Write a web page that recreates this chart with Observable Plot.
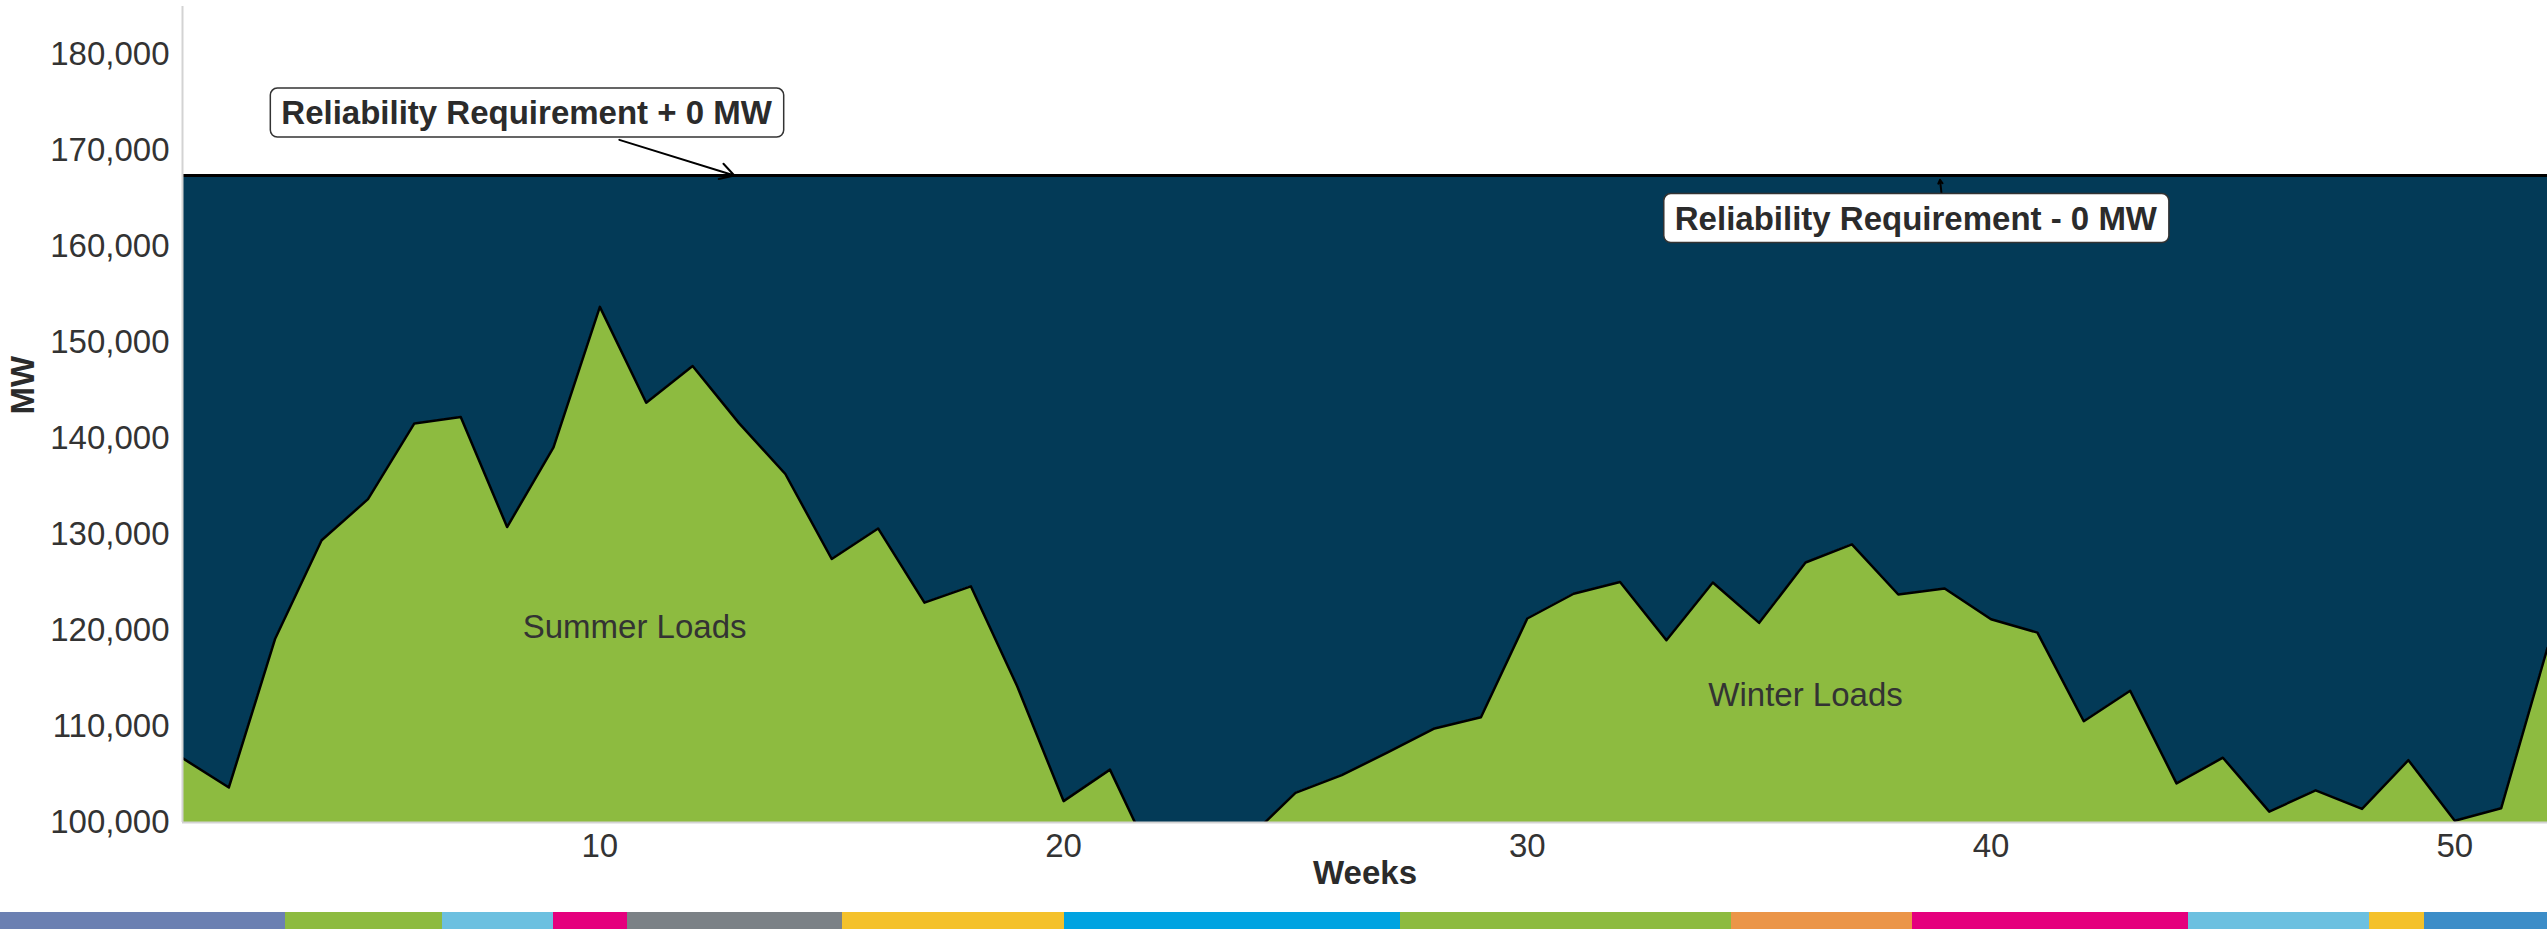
<!DOCTYPE html>
<html><head><meta charset="utf-8">
<script src="https://cdn.jsdelivr.net/npm/d3@7"></script>
<script src="https://cdn.jsdelivr.net/npm/@observablehq/plot@0.6"></script>
<style>
html,body{margin:0;padding:0;background:#fff;}
#chart{width:2547px;height:912px;}
#strip{display:flex;width:2547px;height:17px;}
#strip div{height:17px;}
</style></head><body>
<div id="chart"></div>
<div id="strip"></div>
<script>
// ---- data ----
const weeks = [1,2,3,4,5,6,7,8,9,10,11,12,13,14,15,16,17,18,19,20,21,22,23,24,25,26,
  27,28,29,30,31,32,33,34,35,36,37,38,39,40,41,42,43,44,45,46,47,48,49,50,51,52];
const loadMW = [
  106700,103650,119170,129400,133680,141570,142240,130780,139070,153710,
  143730,147550,141600,136300,127450,130630,122900,124600,114200,102230,
  105510, 95300, 96000, 98400,103090,104930,107330,109800,110960,121250,
  123830,125050,118990,125000,120800,127080,128980,123750,124380,121170,
  119780,110550,113730,104080,106750,101130,103350,101420,106490,100180,
  101480,118190];
const requirementMW = 167400;
const yTicks = [100000,110000,120000,130000,140000,150000,160000,170000,180000];
const xTicks = [10,20,30,40,50];
const yDomain = [100000,185000];

const areaLabels = ["Summer Loads","Winter Loads"];
const areaLabelWeek = [10.75, 36.0];
const areaLabelMW = [120300, 113200];

const annotationTexts = ["Reliability Requirement + 0 MW","Reliability Requirement - 0 MW"];
const annotationWeek = [8.42, 38.38];
const annotationMW = [173850, 162860];
const arrowFromWeek = [10.42, 38.93];
const arrowFromMW = [171110, 165625];
const arrowToWeek = [12.90, 38.90];
const arrowToMW = [167400, 166950];

const stripColors = ["#6b80b2","#8dbb40","#6cc0e0","#e5007d","#7b8186","#f4c12b","#00a3e1",
  "#8dbb40","#eb9548","#e5007d","#6cc0e0","#f4c12b","#3c8dc8"];
const stripWidths = [285,157,111,74,215,222,336,331,181,276,181,55,123];

// ---- build ----
const data = weeks.map((w,i)=>({week:w, load:loadMW[i]}));
const labels = areaLabels.map((t,i)=>({text:t, week:areaLabelWeek[i], mw:areaLabelMW[i]}));
const notes = annotationTexts.map((t,i)=>({text:t, week:annotationWeek[i], mw:annotationMW[i]}));
const arrows = arrowFromWeek.map((w,i)=>({x1:w, y1:arrowFromMW[i], x2:arrowToWeek[i], y2:arrowToMW[i]}));
const fmt = d3.format(",");
const FONT = "'Liberation Sans', Arial, sans-serif";

const plot = Plot.plot({
  width: 2547, height: 912,
  marginLeft: 182, marginRight: 0, marginTop: 6, marginBottom: 90,
  style: {fontFamily: FONT, fontSize: "33px", color: "#333", background: "white", overflow: "visible"},
  x: {domain: [1,52], ticks: xTicks, tickSize: 0, tickPadding: 11, tickFormat: d => String(d), label: null},
  y: {domain: yDomain, ticks: yTicks, tickSize: 0, tickPadding: 13, tickFormat: fmt, label: null},
  marks: [
    Plot.areaY(data, {x: "week", y1: d => yDomain[0], y2: "load", fill: "#8dbb40", clip: true}),
    Plot.areaY(data, {x: "week", y1: "load", y2: d => requirementMW, fill: "#033a57", clip: true}),
    Plot.line(data, {x: "week", y: "load", stroke: "black", strokeWidth: 2.5, clip: true}),
    Plot.ruleY([requirementMW], {stroke: "black", strokeWidth: 3}),
    Plot.ruleX([weeks[0]], {stroke: "#d3d3d3", strokeWidth: 2}),
    Plot.ruleY([yDomain[0]], {stroke: "#d3d3d3", strokeWidth: 2}),
    Plot.text(labels, {x: "week", y: "mw", text: "text", fontSize: 33, fill: "#333", fontFamily: FONT}),
    Plot.arrow(arrows, {x1: "x1", y1: "y1", x2: "x2", y2: "y2", stroke: "black", strokeWidth: 2, headLength: 12}),
    Plot.text(notes, {x: "week", y: "mw", text: "text", fontSize: 33, fontWeight: "bold", fill: "#2b2b2b", fontFamily: FONT}),
    Plot.text(["MW"], {frameAnchor: "left", rotate: -90, dx: -159, fontSize: 33, fontWeight: "bold", fill: "#2b2b2b", fontFamily: FONT}),
    Plot.text(["Weeks"], {frameAnchor: "bottom", dy: 61, fontSize: 33, fontWeight: "bold", fill: "#2b2b2b", fontFamily: FONT})
  ]
});
document.getElementById("chart").appendChild(plot);

// boxes behind annotation texts
const svgns = "http://www.w3.org/2000/svg";
plot.querySelectorAll("text").forEach(t => {
  if (annotationTexts.includes(t.textContent)) {
    const b = t.getBBox();
    const r = document.createElementNS(svgns, "rect");
    r.setAttribute("x", b.x - 11);
    r.setAttribute("y", b.y + 1);
    r.setAttribute("width", b.width + 22);
    r.setAttribute("height", b.height + 12);
    r.setAttribute("y", b.y - 6);
    r.setAttribute("rx", 7);
    r.setAttribute("fill", "white");
    r.setAttribute("stroke", "#333");
    r.setAttribute("stroke-width", 1.5);
    if (t.getAttribute("transform")) r.setAttribute("transform", t.getAttribute("transform"));
    t.parentNode.insertBefore(r, t);
  }
});

// colour strip
const strip = document.getElementById("strip");
stripColors.forEach((c,i) => {
  const d = document.createElement("div");
  d.style.background = c;
  d.style.width = stripWidths[i] + "px";
  strip.appendChild(d);
});
</script>
</body></html>
